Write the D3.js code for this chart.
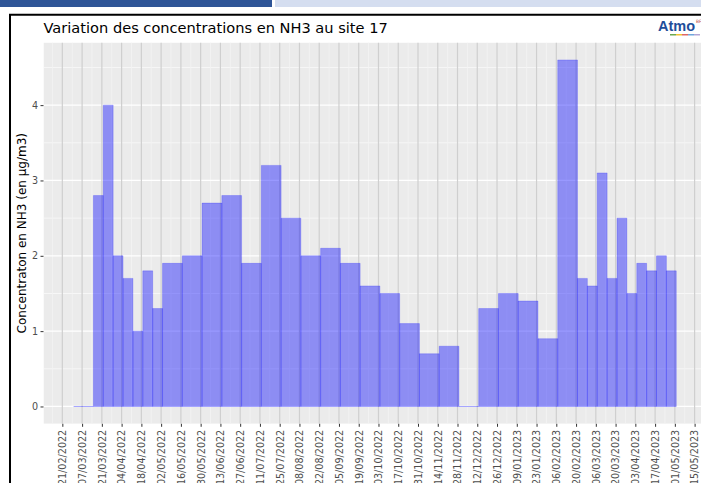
<!DOCTYPE html>
<html>
<head>
<meta charset="utf-8">
<script src="https://cdn.jsdelivr.net/npm/d3@7"></script>
<style>
  html, body { margin: 0; padding: 0; background: #fff; }
  svg { display: block; font-family: "DejaVu Sans", sans-serif; }
</style>
</head>
<body>
<svg id="chart" width="701" height="483"></svg>
<script>
// Sampling periods (start / end, dd/mm/yyyy) and mean NH3 concentration (µg/m3)
const periodStart = [
  "01/03/2022","15/03/2022","22/03/2022","29/03/2022","05/04/2022","12/04/2022",
  "19/04/2022","26/04/2022","03/05/2022","17/05/2022","31/05/2022","14/06/2022",
  "28/06/2022","12/07/2022","26/07/2022","09/08/2022","23/08/2022","06/09/2022",
  "20/09/2022","04/10/2022","18/10/2022","01/11/2022","15/11/2022","29/11/2022",
  "13/12/2022","27/12/2022","10/01/2023","24/01/2023","07/02/2023","21/02/2023",
  "28/02/2023","07/03/2023","14/03/2023","21/03/2023","28/03/2023","04/04/2023",
  "11/04/2023","18/04/2023","25/04/2023"
];
const periodEnd = [
  "15/03/2022","22/03/2022","29/03/2022","05/04/2022","12/04/2022","19/04/2022",
  "26/04/2022","03/05/2022","17/05/2022","31/05/2022","14/06/2022","28/06/2022",
  "12/07/2022","26/07/2022","09/08/2022","23/08/2022","06/09/2022","20/09/2022",
  "04/10/2022","18/10/2022","01/11/2022","15/11/2022","29/11/2022","13/12/2022",
  "27/12/2022","10/01/2023","24/01/2023","07/02/2023","21/02/2023","28/02/2023",
  "07/03/2023","14/03/2023","21/03/2023","28/03/2023","04/04/2023","11/04/2023",
  "18/04/2023","25/04/2023","02/05/2023"
];
const nh3Values = [
  0, 2.8, 4.0, 2.0, 1.7, 1.0, 1.8, 1.3, 1.9, 2.0, 2.7, 2.8,
  1.9, 3.2, 2.5, 2.0, 2.1, 1.9, 1.6, 1.5, 1.1, 0.7, 0.8, 0,
  1.3, 1.5, 1.4, 0.9, 4.6, 1.7, 1.6, 3.1, 1.7, 2.5, 1.5, 1.9,
  1.8, 2.0, 1.8
];
const xTickLabels = [
  "21/02/2022","07/03/2022","21/03/2022","04/04/2022","18/04/2022","02/05/2022",
  "16/05/2022","30/05/2022","13/06/2022","27/06/2022","11/07/2022","25/07/2022",
  "08/08/2022","22/08/2022","05/09/2022","19/09/2022","03/10/2022","17/10/2022",
  "31/10/2022","14/11/2022","28/11/2022","12/12/2022","26/12/2022","09/01/2023",
  "23/01/2023","06/02/2023","20/02/2023","06/03/2023","20/03/2023","03/04/2023",
  "17/04/2023","01/05/2023","15/05/2023"
];
const yTickValues = [0, 1, 2, 3, 4];

const titleText = "Variation des concentrations en NH3 au site 17";
const yTitleText = "Concentraton en NH3 (en µg/m3)";

const parseDate = d3.timeParse("%d/%m/%Y");
const bars = nh3Values.map((v, i) => ({
  start: parseDate(periodStart[i]),
  end: parseDate(periodEnd[i]),
  value: v
}));
const tickDates = xTickLabels.map(parseDate);

const svg = d3.select("#chart");

// document header strips and frame
svg.append("rect").attr("x", 0).attr("y", 0).attr("width", 272).attr("height", 7).attr("fill", "#2F5597");
svg.append("rect").attr("x", 275).attr("y", 0).attr("width", 426).attr("height", 7).attr("fill", "#D5DEF0");
svg.append("path")
  .attr("d", "M10,483 V14.8 H701")
  .attr("fill", "none").attr("stroke", "#000").attr("stroke-width", 2);

// panel geometry
const panel = { left: 43.5, top: 42.6, bottom: 423.8 };

// x: 5% expansion around the data span
const dMin = d3.min(bars, d => d.start), dMax = d3.max(bars, d => d.end);
const pad = (dMax - dMin) * 0.05;
const x = d3.scaleTime()
  .domain([new Date(+dMin - pad), new Date(+dMax + pad)])
  .range([panel.left, 706.4]);

const yMax = d3.max(nh3Values);
const y = d3.scaleLinear()
  .domain([-yMax * 0.05, yMax * 1.05])
  .range([panel.bottom, panel.top]);

const defs = svg.append("defs");
defs.append("clipPath").attr("id", "panelClip")
  .append("rect").attr("x", panel.left).attr("y", panel.top)
  .attr("width", 701 - panel.left).attr("height", panel.bottom - panel.top);

const g = svg.append("g").attr("clip-path", "url(#panelClip)");
g.append("rect")
  .attr("x", panel.left).attr("y", panel.top)
  .attr("width", 701 - panel.left).attr("height", panel.bottom - panel.top)
  .attr("fill", "#EBEBEB");

// minor horizontal gridlines
const yMinor = d3.range(-0.5, 5, 1);
g.selectAll(".ymin").data(yMinor).join("line")
  .attr("x1", panel.left).attr("x2", 701)
  .attr("y1", d => y(d)).attr("y2", d => y(d))
  .attr("stroke", "#fff").attr("stroke-width", 0.6);
// minor vertical gridlines (midway between date breaks)
const xMinor = tickDates.slice(0, -1).map((d, i) => new Date((+d + +tickDates[i + 1]) / 2));
xMinor.unshift(new Date(+tickDates[0] - (tickDates[1] - tickDates[0]) / 2));
g.selectAll(".xmin").data(xMinor).join("line")
  .attr("x1", d => x(d)).attr("x2", d => x(d))
  .attr("y1", panel.top).attr("y2", panel.bottom)
  .attr("stroke", "#F4F4F4").attr("stroke-width", 0.8);
// major gridlines
g.selectAll(".ymaj").data(yTickValues).join("line")
  .attr("x1", panel.left).attr("x2", 701)
  .attr("y1", d => y(d)).attr("y2", d => y(d))
  .attr("stroke", "#fff").attr("stroke-width", 1.2);
g.selectAll(".xmaj").data(tickDates).join("line")
  .attr("x1", d => x(d)).attr("x2", d => x(d))
  .attr("y1", panel.top).attr("y2", panel.bottom)
  .attr("stroke", "#CFCFCF").attr("stroke-width", 1.2);

// concentration bars, one per sampling period (drawn as paths so that
// zero-valued periods still show their outline along the baseline)
g.selectAll(".bar").data(bars).join("path")
  .attr("d", d => {
    const x0 = x(d.start), x1 = x(d.end), y0 = y(0), y1 = y(d.value);
    return `M${x0},${y0}H${x1}V${y1}H${x0}Z`;
  })
  .attr("fill", "blue").attr("fill-opacity", 0.4)
  .attr("stroke", "blue").attr("stroke-opacity", 0.2).attr("stroke-width", 1);

// x axis
const xAxis = d3.axisBottom(x)
  .tickValues(tickDates)
  .tickFormat((d, i) => xTickLabels[i])
  .tickSize(3).tickSizeOuter(0);
const gx = svg.append("g").attr("transform", `translate(0,${panel.bottom})`).call(xAxis);
gx.select(".domain").remove();
gx.selectAll(".tick line").attr("stroke", "#333").attr("stroke-width", 1);
gx.selectAll(".tick text")
  .attr("fill", "#4D4D4D").attr("font-size", 9.6)
  .attr("font-family", "DejaVu Sans, sans-serif")
  .attr("transform", "rotate(-90)")
  .attr("text-anchor", "end")
  .attr("x", -6).attr("y", 0).attr("dy", "0.35em");

// y axis
const yAxis = d3.axisLeft(y).tickValues(yTickValues).tickFormat(d3.format("d")).tickSize(3).tickSizeOuter(0);
const gy = svg.append("g").attr("transform", `translate(${panel.left},0)`).call(yAxis);
gy.select(".domain").remove();
gy.selectAll(".tick line").attr("stroke", "#333");
gy.selectAll(".tick text")
  .attr("fill", "#4D4D4D").attr("font-size", 9.6)
  .attr("font-family", "DejaVu Sans, sans-serif").attr("x", -5.5);

// titles
svg.append("text")
  .attr("x", 43.5).attr("y", 32.5)
  .attr("font-size", 14.6).attr("fill", "#000")
  .text(titleText);
svg.append("text")
  .attr("transform", `translate(26,${(panel.top + panel.bottom) / 2}) rotate(-90)`)
  .attr("text-anchor", "middle")
  .attr("font-size", 12).attr("fill", "#000")
  .text(yTitleText);

// Atmo logo
const logo = svg.append("g").attr("transform", "translate(658,31)");
logo.append("text").attr("x", 0).attr("y", 0)
  .attr("font-size", 14.5).attr("font-weight", "bold").attr("fill", "#1F4E9A")
  .attr("font-family", "Liberation Sans, sans-serif")
  .text("Atmo");
logo.append("text").attr("x", 38).attr("y", -8)
  .attr("font-size", 4.5).attr("fill", "#C0504D").text("BFC");
const stripeColors = ["#6AA84F", "#F1C232", "#E06666", "#6FA8DC", "#B4A7D6"];
logo.selectAll(".stripe").data(stripeColors).join("rect")
  .attr("x", (d, i) => 12 + i * 6).attr("y", 3).attr("width", 6).attr("height", 1.5)
  .attr("fill", d => d);
</script>
</body>
</html>
